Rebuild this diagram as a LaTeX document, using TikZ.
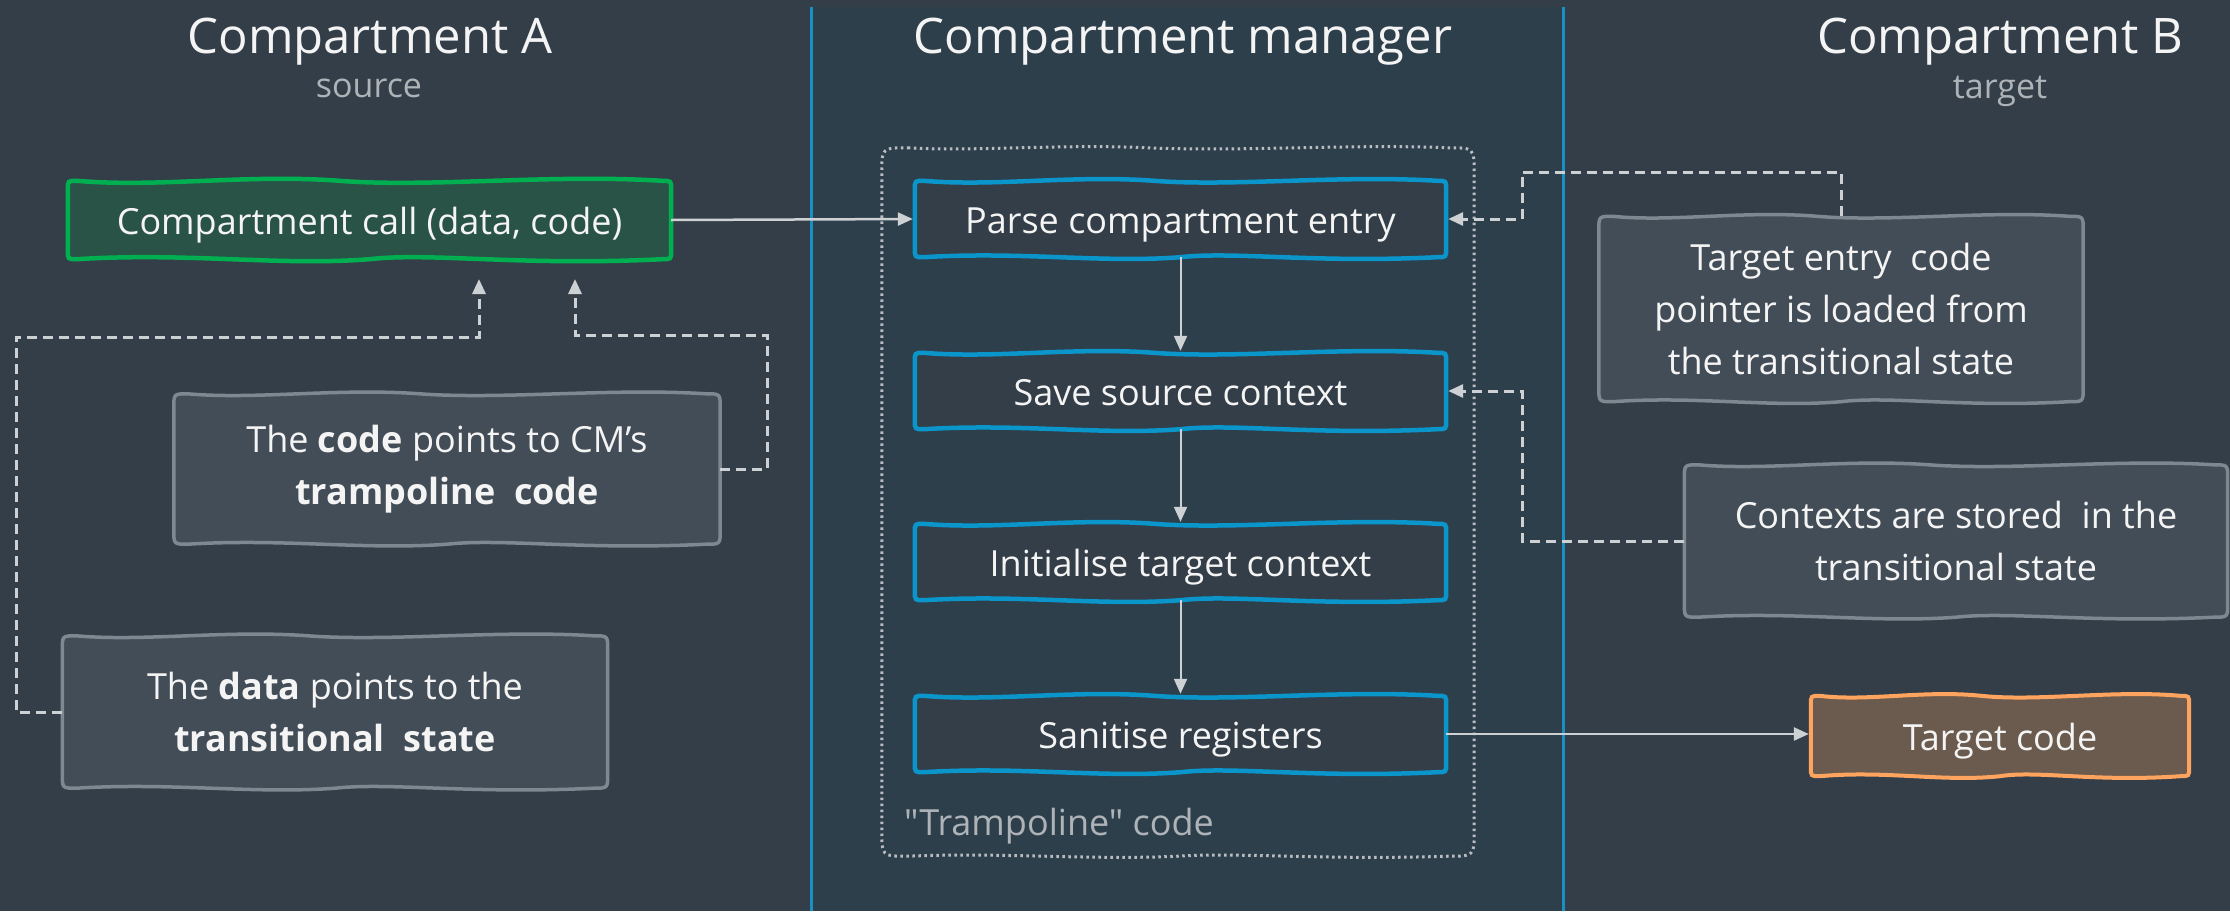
\documentclass[tikz,border=0pt]{standalone}
\usepackage{fontspec}
\setmainfont{Open Sans}
\usetikzlibrary{calc,arrows.meta}

\definecolor{pageout}{HTML}{333E48}
\definecolor{pagemid}{HTML}{2E3F4C}
\definecolor{bandline}{HTML}{1A8FC2}
\definecolor{stepblue}{HTML}{0A96CA}
\definecolor{callgreen}{HTML}{00B050}
\definecolor{callfill}{HTML}{2A5348}
\definecolor{notefill}{HTML}{434D57}
\definecolor{noteline}{HTML}{7E8890}
\definecolor{tcodeline}{HTML}{FFA45E}
\definecolor{tcodefill}{HTML}{6B5B4E}
\definecolor{wire}{HTML}{CDD1D4}
\definecolor{subgrey}{HTML}{AEB3B8}
\definecolor{dotgrey}{HTML}{B9BDC1}
\definecolor{textwhite}{HTML}{F4F4F4}

\pgfdeclarelayer{canvas}
\pgfdeclarelayer{shapes}
\pgfsetlayers{canvas,shapes,main}

% hand-drawn looking outline around a node: #1 node, #2 style, #3 wave amplitude, #4 corner radius
\newcommand\sketchbox[4]{%
\begin{pgfonlayer}{shapes}
\path[#2] ($(#1.north west)+(#4,0)$)
 .. controls ($(#1.north west)!0.15!(#1.north east)+(0,#3)$) and ($(#1.north west)!0.3!(#1.north east)+(0,-#3)$) .. ($(#1.north west)!0.45!(#1.north east)$)
 .. controls ($(#1.north west)!0.6!(#1.north east)+(0,#3)$) and ($(#1.north west)!0.8!(#1.north east)+(0,-#3)$) .. ($(#1.north east)+(-#4,0)$)
 .. controls (#1.north east) .. ($(#1.north east)+(0,#4)$)
 -- ($(#1.south east)+(0,-#4)$)
 .. controls (#1.south east) .. ($(#1.south east)+(-#4,0)$)
 .. controls ($(#1.south west)!0.75!(#1.south east)+(0,#3)$) and ($(#1.south west)!0.6!(#1.south east)+(0,-#3)$) .. ($(#1.south west)!0.5!(#1.south east)$)
 .. controls ($(#1.south west)!0.35!(#1.south east)+(0,#3)$) and ($(#1.south west)!0.2!(#1.south east)+(0,-#3)$) .. ($(#1.south west)+(#4,0)$)
 .. controls (#1.south west) .. ($(#1.south west)+(0,-#4)$)
 -- ($(#1.north west)+(0,#4)$)
 .. controls (#1.north west) .. ($(#1.north west)+(#4,0)$) -- cycle;
\end{pgfonlayer}}

\tikzset{
  txt/.style={text=textwhite, font=\fontsize{36}{52}\selectfont, align=center, inner sep=0pt},
  oneline/.style={txt, text height=30pt, text depth=2pt},
  title/.style={text=textwhite, font=\fontsize{49}{58}\selectfont, inner sep=0pt, anchor=base},
  subtitle/.style={text=subgrey, font=\fontsize{34}{40}\selectfont, inner sep=0pt, anchor=base},
  stepbox/.style={oneline, minimum width=531pt, minimum height=76pt},
  stepline/.style={draw=stepblue, line width=4.5pt, fill=pageout},
  callline/.style={draw=callgreen, line width=4.5pt, fill=callfill},
  noteline/.style={draw=noteline, line width=3.5pt, fill=notefill},
  tcodeline/.style={draw=tcodeline, line width=4pt, fill=tcodefill},
  dotline/.style={draw=dotgrey, line width=3pt, dash pattern=on 2.5pt off 3.5pt},
  wirearrow/.style={draw=wire, line width=2.5pt, -{Triangle[length=15pt,width=13pt]}, shorten >=2pt},
  dashwire/.style={wirearrow, line width=3pt, dash pattern=on 10pt off 6pt},
}

\begin{document}
\begin{tikzpicture}[x=1pt,y=-1pt]
\useasboundingbox (0,0) rectangle (2230,911);
\begin{pgfonlayer}{canvas}
  \fill[pageout] (0,0) rectangle (2230,911);
  \fill[pagemid] (811,7) rectangle (1563,911);
  \draw[bandline, line width=3pt] (811,7) -- (811,911) (1563,7) -- (1563,911);
\end{pgfonlayer}

% column headings
\node[title] (tA) at (370,53) {Compartment A};
\node[subtitle] (sA) at (369,97) {source};
\node[title] (tM) at (1183,53) {Compartment manager};
\node[title] (tB) at (2000,53) {Compartment B};
\node[subtitle] (sB) at (2000,98) {target};

% compartment A
\node[oneline, minimum width=603pt, minimum height=78pt] (call) at (369.5,220) {Compartment call (data, code)};
\node[txt, minimum width=546pt, minimum height=150pt] (codenote) at (447,469)
  {The \textbf{code} points to CM’s\\\textbf{trampoline\ \ code}};
\node[txt, minimum width=545pt, minimum height=152pt] (datanote) at (335,712)
  {The \textbf{data} points to the\\\textbf{transitional\ \ state}};

% compartment manager
\node[minimum width=592pt, minimum height=708pt, inner sep=0pt] (tramp) at (1178,502) {};
\node[text=subgrey, font=\fontsize{36}{40}\selectfont\addfontfeatures{Ligatures=TeXOff}, inner sep=0pt, anchor=base west] (tramplabel) at (904,835) {"Trampoline" code};
\node[stepbox] (parse) at (1180.5,219) {Parse compartment entry};
\node[stepbox] (save) at (1180.5,391) {Save source context};
\node[stepbox] (init) at (1180.5,562) {Initialise target context};
\node[stepbox] (sanit) at (1180.5,734) {Sanitise registers};

% compartment B
\node[txt, minimum width=484pt, minimum height=185pt] (tnote) at (1841,309)
  {Target entry\ \ code\\pointer is loaded from\\the transitional state};
\node[txt, minimum width=543pt, minimum height=152pt] (cnote) at (1956,541)
  {Contexts are stored\ \ in the\\transitional state};
\node[oneline, minimum width=378pt, minimum height=80pt] (tcode) at (2000,736) {Target code};

% outlines
\sketchbox{tramp}{dotline}{4}{26}
\sketchbox{call}{callline}{7}{9}
\sketchbox{codenote}{noteline}{6}{14}
\sketchbox{datanote}{noteline}{6}{14}
\sketchbox{parse}{stepline}{6}{9}
\sketchbox{save}{stepline}{6}{9}
\sketchbox{init}{stepline}{6}{9}
\sketchbox{sanit}{stepline}{6}{9}
\sketchbox{tnote}{noteline}{6}{14}
\sketchbox{cnote}{noteline}{6}{14}
\sketchbox{tcode}{tcodeline}{6}{9}

% control flow
\draw[wirearrow] (call.east) -- (parse.west);
\draw[wirearrow, line width=2pt] (parse) -- (save);
\draw[wirearrow, line width=2pt] (save) -- (init);
\draw[wirearrow, line width=2pt] (init) -- (sanit);
\draw[wirearrow] (sanit.east) -- (sanit.east -| tcode.west);

% annotation links
\coordinate (cpA) at (767,335);
\coordinate (cpTip) at (575,277);
\coordinate (dpA) at (16,337);
\coordinate (dpTip) at (479,277);
\coordinate (tpA) at (1522,172);
\coordinate (spA) at (1522,391);
\draw[dashwire] (codenote.east) -| (cpA) -| (cpTip);
\draw[dashwire] (datanote.west) -| (dpA) -| (dpTip);
\draw[dashwire] (tnote.north) |- (tpA) |- (parse.east);
\draw[dashwire] (cnote.west) -| (spA) -- (save.east);
\end{tikzpicture}
\end{document}
